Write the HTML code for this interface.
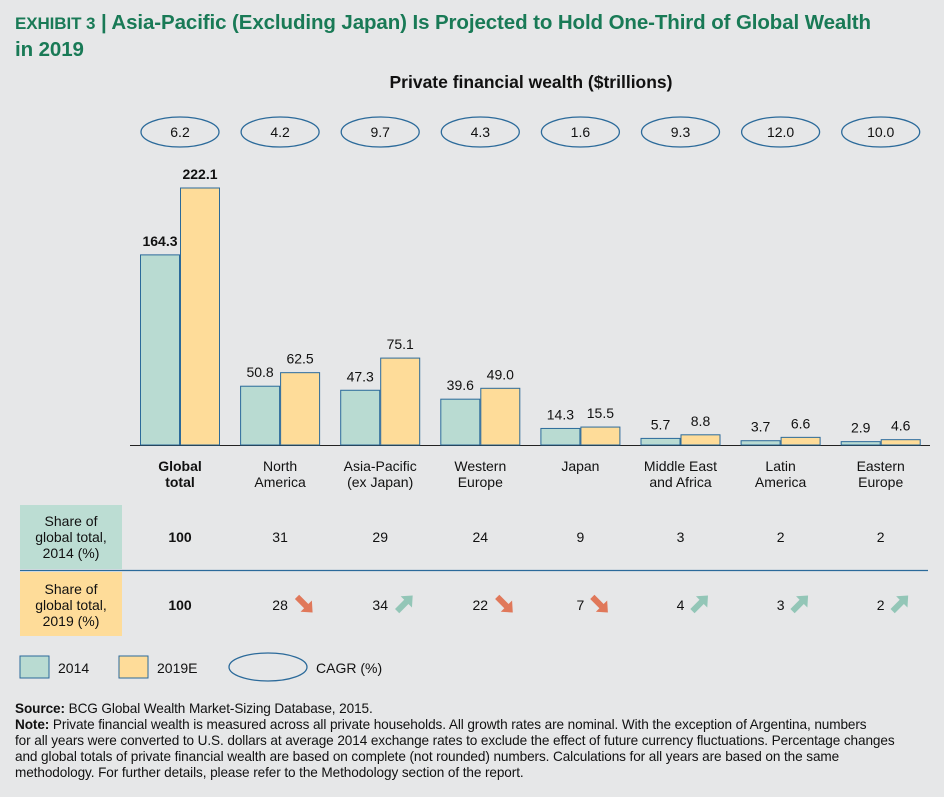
<!DOCTYPE html>
<html><head><meta charset="utf-8"><style>
body{margin:0;width:944px;height:797px;background:#e6e7e8;font-family:"Liberation Sans",sans-serif;overflow:hidden;position:relative}
.t{position:absolute;white-space:nowrap}
</style></head><body>
<div class="t" style="left:15px;top:10px;font-size:20.5px;font-weight:bold;color:#197a56;line-height:26px;letter-spacing:-0.1px"><span style="font-size:17px">EXHIBIT 3</span> | Asia-Pacific (Excluding Japan) Is Projected to Hold One-Third of Global Wealth<br>in 2019</div>
<svg width="944" height="797" style="position:absolute;left:0;top:0" id="chart"></svg>
<div class="t" style="left:15px;top:701px;font-size:13.6px;line-height:16px;color:#111;letter-spacing:-0.1px"><b>Source:</b> BCG Global Wealth Market-Sizing Database, 2015.<br><b>Note:</b> Private financial wealth is measured across all private households. All growth rates are nominal. With the exception of Argentina, numbers<br>for all years were converted to U.S. dollars at average 2014 exchange rates to exclude the effect of future currency fluctuations. Percentage changes<br>and global totals of private financial wealth are based on complete (not rounded) numbers. Calculations for all years are based on the same<br>methodology. For further details, please refer to the Methodology section of the report.</div>
<script>
const categories=["Global\ntotal","North\nAmerica","Asia-Pacific\n(ex Japan)","Western\nEurope","Japan","Middle East\nand Africa","Latin\nAmerica","Eastern\nEurope"];
const values2014=[164.3,50.8,47.3,39.6,14.3,5.7,3.7,2.9];
const values2019=[222.1,62.5,75.1,49.0,15.5,8.8,6.6,4.6];
const cagr=["6.2","4.2","9.7","4.3","1.6","9.3","12.0","10.0"];
const share2014=[100,31,29,24,9,3,2,2];
const share2019=[100,28,34,22,7,4,3,2];
const trend=["none","down","up","down","down","up","up","up"];
const NS="http://www.w3.org/2000/svg";
const svg=document.getElementById('chart');
const base=445,scale=257/222.1;
const y=v=>base-v*scale;
const cx=i=>180+i*100.1;
function mk(tag,attrs,txt){const e=document.createElementNS(NS,tag);for(const k in attrs)e.setAttribute(k,attrs[k]);if(txt!==undefined)e.textContent=txt;svg.appendChild(e);return e;}
let e=mk('text',{x:531,y:88,'font-size':17.5,'font-weight':'bold','text-anchor':'middle',fill:'#111'},'Private financial wealth ($trillions)');


e=mk('line',{x1:130,x2:930,y1:445.5,y2:445.5,stroke:'#222','stroke-width':1});


categories.forEach((c,i)=>{
 const x=cx(i);
 e=mk('ellipse',{cx:x,cy:132,rx:39,ry:15,fill:'none',stroke:'#2b6a9a','stroke-width':1.3});
 
 
 e=mk('text',{x:x,y:137,'font-size':14,'text-anchor':'middle',fill:'#111'},cagr[i]);
 
 
 const b=i==0?'bold':'normal';
 e=mk('rect',{x:x-39.5,y:y(values2014[i]),width:39,height:values2014[i]*scale,fill:'#b9dbd2',stroke:'#2b6a9a','stroke-width':1});
 
 
 e=mk('rect',{x:x+0.5,y:y(values2019[i]),width:39,height:values2019[i]*scale,fill:'#fedc99',stroke:'#2b6a9a','stroke-width':1});
 
 
 e=mk('text',{x:x-20,y:y(values2014[i])-9,'font-size':14,'font-weight':b,'text-anchor':'middle',fill:'#111'},values2014[i].toFixed(1));
 
 
 e=mk('text',{x:x+20,y:y(values2019[i])-9,'font-size':14,'font-weight':b,'text-anchor':'middle',fill:'#111'},values2019[i].toFixed(1));
 
 
 c.split('\n').forEach((l,k)=>{
  e=mk('text',{x:x,y:471+k*16,'font-size':14,'font-weight':b,'text-anchor':'middle',fill:'#111'},l);
  
  
 });
 e=mk('text',{x:x,y:542,'font-size':14,'font-weight':b,'text-anchor':'middle',fill:'#111'},share2014[i]);
 
 
 e=mk('text',{x:x,y:610,'font-size':14,'font-weight':b,'text-anchor':'middle',fill:'#111'},share2019[i]);
 
 
 if(trend[i]!=="none"){
  const ax=x+(String(share2019[i]).length>1?24:19),ay=604;
  const up=trend[i]==="up";
  const g=mk('g',{transform:`translate(${ax},${ay}) rotate(${up?-45:45})`});
  
  
  const p=document.createElementNS(NS,'polygon');
  p.setAttribute('points','-10,-3 3,-3 3,-8 12,0 3,8 3,3 -10,3');
  p.setAttribute('fill',up?'#93c6b7':'#e0785a');
  g.appendChild(p);
 }
});
e=mk('rect',{x:20,y:505,width:102,height:64,fill:'#bcddd3'});


e=mk('rect',{x:20,y:572,width:102,height:64,fill:'#fedc99'});


[["Share of","global total,","2014 (%)",526],["Share of","global total,","2019 (%)",594]].forEach(r=>{
 for(let k=0;k<3;k++){e=mk('text',{x:71,y:r[3]+k*16,'font-size':14,'text-anchor':'middle',fill:'#111'},r[k]);
 
 }
});
e=mk('line',{x1:20,x2:928,y1:570.5,y2:570.5,stroke:'#2b6a9a','stroke-width':1.3});


e=mk('rect',{x:20,y:656,width:29,height:22,fill:'#b9dbd2',stroke:'#2b6a9a'});


e=mk('text',{x:58,y:673,'font-size':14,fill:'#111'},'2014');


e=mk('rect',{x:119,y:656,width:29,height:22,fill:'#fedc99',stroke:'#2b6a9a'});


e=mk('text',{x:157,y:673,'font-size':14,fill:'#111'},'2019E');


e=mk('ellipse',{cx:268,cy:667,rx:39,ry:14,fill:'none',stroke:'#2b6a9a','stroke-width':1.3});


e=mk('text',{x:316,y:673,'font-size':14,fill:'#111'},'CAGR (%)');


</script>
</body></html>
